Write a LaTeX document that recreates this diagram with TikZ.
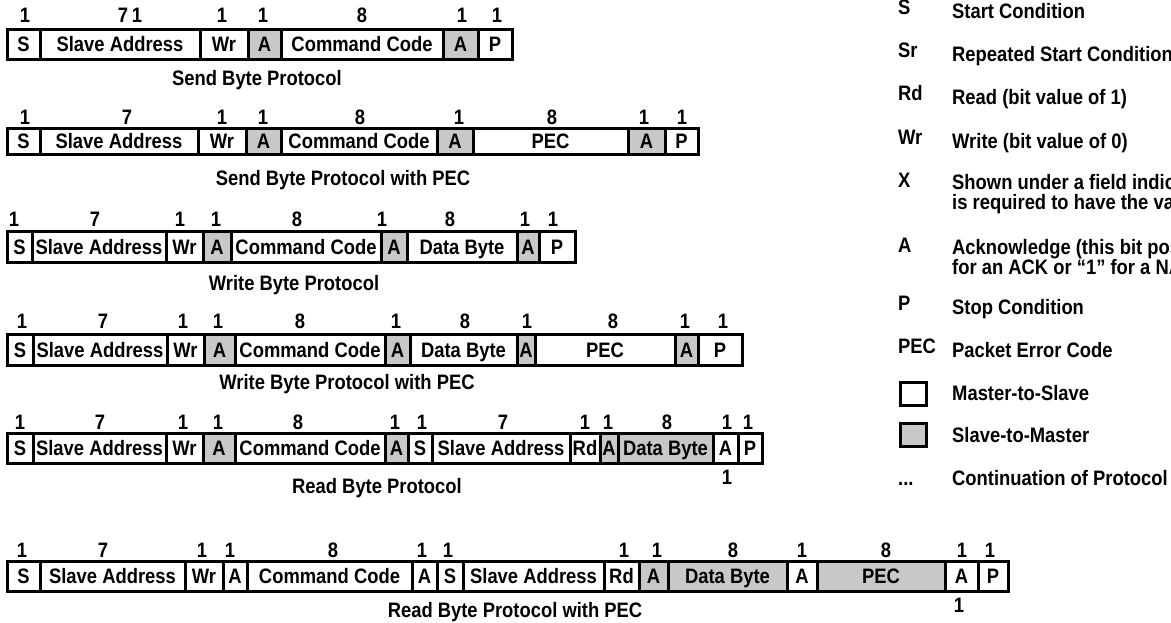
\documentclass[tikz,border=0pt]{standalone}
\usepackage{fontspec}
\setmainfont{Liberation Sans}[FakeStretch=0.88]
\definecolor{ackgrey}{RGB}{200,200,200}

\begin{document}
\begin{tikzpicture}[x=1pt,y=-1pt,
field/.style={draw=black,line width=3pt,inner sep=0pt,outer sep=0pt,anchor=west,
text height=15pt,text depth=0pt,font=\fontsize{20.9}{20}\selectfont\bfseries},
bits/.style={inner sep=0pt,text height=15pt,text depth=0pt,font=\fontsize{20.9}{20}\selectfont\bfseries},
caption/.style={bits},
legabbr/.style={bits,anchor=west},
legtext/.style={bits,anchor=west},
legmulti/.style={inner sep=0pt,anchor=north west,align=left,font=\fontsize{20.9}{20}\selectfont\bfseries},
legbox/.style={draw=black,line width=3pt,inner sep=0pt,minimum width=26,minimum height=23}]
\useasboundingbox (0,0) rectangle (1171,622);
% Send Byte
\foreach \xa/\xb/\txt/\fc [count=\i] in {7/40/S/white,40/200/Slave Address/white,200/248/Wr/white,
248/281/A/ackgrey,281/443/Command Code/white,443/478/A/ackgrey,478/512/P/white}
\node[field,fill=\fc,minimum width=\xb-\xa,minimum height=30] (sb\i) at (\xa,44) {\txt};
\foreach \xn/\n [count=\i] in {25/1,123/7,137/1,222/1,263/1,362/8,462/1,497/1}
\node[bits] (sbn\i) at (\xn,15) {\n};
\node[caption] (sbcap) at (257,78) {Send Byte Protocol};
% Send Byte with PEC
\foreach \xa/\xb/\txt/\fc [count=\i] in {7/40/S/white,40/198/Slave Address/white,198/246/Wr/white,
246/281/A/ackgrey,281/437/Command Code/white,437/473/A/ackgrey,473/628/PEC/white,628/665/A/ackgrey,665/698/P/white}
\node[field,fill=\fc,minimum width=\xb-\xa,minimum height=26] (sp\i) at (\xa,141) {\txt};
\foreach \xn/\n [count=\i] in {25/1,127/7,222/1,263/1,360/8,459/1,552/8,644/1,682/1}
\node[bits] (spn\i) at (\xn,117) {\n};
\node[caption] (spcap) at (343,178) {Send Byte Protocol with PEC};
% Write Byte
\foreach \xa/\xb/\txt/\fc [count=\i] in {7/32/S/white,32/166/Slave Address/white,166/203/Wr/white,
203/231/A/ackgrey,231/381/Command Code/white,381/407/A/ackgrey,407/517/Data Byte/white,517/539/A/ackgrey,539/575/P/white}
\node[field,fill=\fc,minimum width=\xb-\xa,minimum height=31] (wb\i) at (\xa,247) {\txt};
\foreach \xn/\n [count=\i] in {14/1,95/7,180/1,216/1,297/8,382/1,450/8,525/1,553/1}
\node[bits] (wbn\i) at (\xn,219) {\n};
\node[caption] (wbcap) at (294,283) {Write Byte Protocol};
% Write Byte with PEC
\foreach \xa/\xb/\txt/\fc [count=\i] in {7/33/S/white,33/167/Slave Address/white,167/204/Wr/white,
204/235/A/ackgrey,235/385/Command Code/white,385/410/A/ackgrey,410/517/Data Byte/white,517/535/A/ackgrey,
535/675/PEC/white,675/698/A/ackgrey,698/742/P/white}
\node[field,fill=\fc,minimum width=\xb-\xa,minimum height=31] (wp\i) at (\xa,350) {\txt};
\foreach \xn/\n [count=\i] in {22/1,103/7,183/1,218/1,300/8,396/1,465/8,527/1,613/8,685/1,723/1}
\node[bits] (wpn\i) at (\xn,321) {\n};
\node[caption] (wpcap) at (347,382) {Write Byte Protocol with PEC};
% Read Byte
\foreach \xa/\xb/\txt/\fc [count=\i] in {7/33/S/white,33/166/Slave Address/white,166/203/Wr/white,
203/235/A/ackgrey,235/385/Command Code/white,385/408/A/ackgrey,408/432/S/white,432/570/Slave Address/white,
570/600/Rd/white,600/618/A/ackgrey,618/713/Data Byte/ackgrey,713/738/A/white,738/762/P/white}
\node[field,fill=\fc,minimum width=\xb-\xa,minimum height=30] (rb\i) at (\xa,448) {\txt};
\foreach \xn/\n [count=\i] in {20/1,100/7,183/1,218/1,298/8,395/1,422/1,503/7,585/1,608/1,667/8,727/1,748/1}
\node[bits] (rbn\i) at (\xn,422) {\n};
\node[bits] (rbnack) at (727,477) {1};
\node[caption] (rbcap) at (377,486) {Read Byte Protocol};
% Read Byte with PEC
\foreach \xa/\xb/\txt/\fc [count=\i] in {7/40/S/white,40/185/Slave Address/white,185/223/Wr/white,
223/247/A/white,247/412/Command Code/white,412/437/A/white,437/463/S/white,463/604/Slave Address/white,
604/639/Rd/white,639/668/A/ackgrey,668/787/Data Byte/ackgrey,787/817/A/white,817/945/PEC/ackgrey,
945/978/A/white,978/1008/P/white}
\node[field,fill=\fc,minimum width=\xb-\xa,minimum height=30] (rp\i) at (\xa,576) {\txt};
\foreach \xn/\n [count=\i] in {22/1,103/7,202/1,230/1,333/8,422/1,448/1,624/1,657/1,733/8,802/1,886/8,962/1,990/1}
\node[bits] (rpn\i) at (\xn,550) {\n};
\node[bits] (rpnack) at (959,605) {1};
\node[caption] (rpcap) at (515,610) {Read Byte Protocol with PEC};
% legend
\node[legabbr] (kS) at (898,7) {S};
\node[legtext] (dS) at (952,11) {Start Condition};
\node[legabbr] (kSr) at (898,50) {Sr};
\node[legtext] (dSr) at (952,54) {Repeated Start Condition};
\node[legabbr] (kRd) at (898,93) {Rd};
\node[legtext] (dRd) at (952,97) {Read (bit value of 1)};
\node[legabbr] (kWr) at (898,137) {Wr};
\node[legtext] (dWr) at (952,141) {Write (bit value of 0)};
\node[legabbr] (kX) at (898,180) {X};
\node[legmulti] (dX) at (952,174) {Shown under a field indicates that that field\\is required to have the value of “X”};
\node[legabbr] (kA) at (898,245) {A};
\node[legmulti] (dA) at (952,239) {Acknowledge (this bit position may be “0”\\for an ACK or “1” for a NACK)};
\node[legabbr] (kP) at (898,303) {P};
\node[legtext] (dP) at (952,307) {Stop Condition};
\node[legabbr] (kPEC) at (898,346) {PEC};
\node[legtext] (dPEC) at (952,350) {Packet Error Code};
\node[legbox] (msbox) at (913.5,393.5) {};
\node[legtext] (dms) at (952,393) {Master-to-Slave};
\node[legbox,fill=ackgrey] (smbox) at (913.5,435) {};
\node[legtext] (dsm) at (952,435) {Slave-to-Master};
\node[legabbr] (kdots) at (898,478) {...};
\node[legtext] (ddots) at (952,478) {Continuation of Protocol};
\end{tikzpicture}
\end{document}
